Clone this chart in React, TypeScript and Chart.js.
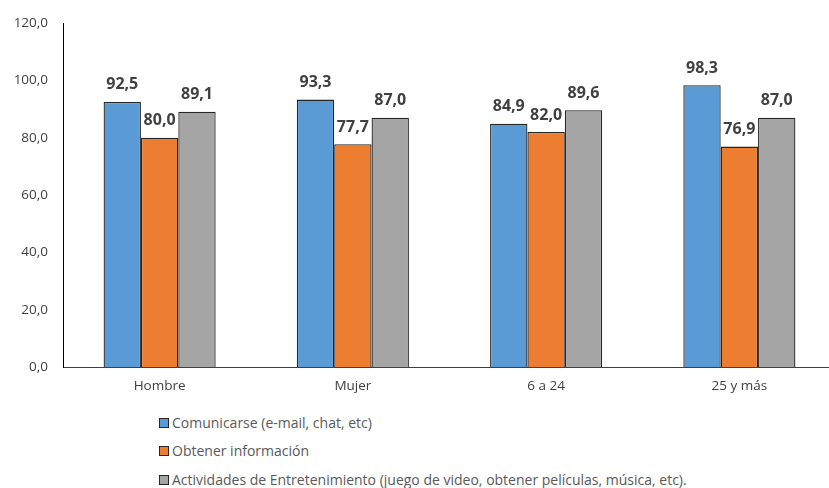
import React, { useEffect, useRef } from "react";
import { Chart, registerables } from "chart.js";

Chart.register(...registerables);

const categories = ["Hombre", "Mujer", "6 a 24", "25 y más"];
const seriesNames = [
  "Comunicarse (e-mail, chat, etc)",
  "Obtener información",
  "Actividades de Entretenimiento (juego de video, obtener películas, música, etc).",
];
const comunicarse = [92.5, 93.3, 84.9, 98.3];
const informacion = [80.0, 77.7, 82.0, 76.9];
const entretenimiento = [89.1, 87.0, 89.6, 87.0];
const yTicks = [0, 20, 40, 60, 80, 100, 120];
const colors = ["#5B9BD5", "#ED7D31", "#A5A5A5"];

const FONT = "'Open Sans', Lato, sans-serif";

const fmt = (v: number) => v.toFixed(1).replace(".", ",");

const labelPlugin = {
  id: "barLabels",
  afterDatasetsDraw(chart: any) {
    const ctx = chart.ctx;
    ctx.save();
    ctx.font = `bold 16px ${FONT}`;
    ctx.fillStyle = "#404040";
    ctx.textAlign = "center";
    ctx.textBaseline = "middle";
    chart.data.datasets.forEach((ds: any, i: number) => {
      const meta = chart.getDatasetMeta(i);
      meta.data.forEach((bar: any, j: number) => {
        ctx.fillText(fmt(ds.data[j]), bar.x, bar.y - 17);
      });
    });
    ctx.restore();
  },
};

export default function App() {
  const ref = useRef<HTMLCanvasElement>(null);
  useEffect(() => {
    if (!ref.current) return;
    const data = [comunicarse, informacion, entretenimiento];
    const chart = new Chart(ref.current, {
      type: "bar",
      data: {
        labels: categories,
        datasets: data.map((d, i) => ({
          label: seriesNames[i],
          data: d,
          backgroundColor: colors[i],
          borderColor: "#262626",
          borderWidth: 1.3,
          categoryPercentage: 0.58,
          barPercentage: 1,
        })),
      },
      options: {
        animation: false,
        responsive: false,
        maintainAspectRatio: false,
        layout: { padding: { top: 20, left: 0, right: 0, bottom: 0 } },
        plugins: { legend: { display: false }, tooltip: { enabled: false } },
        scales: {
          x: {
            grid: { display: false, drawTicks: false },
            border: { display: true, color: "#404040", width: 1 },
            ticks: { color: "#404040", font: { family: FONT, size: 13.5 }, padding: 11 },
            afterFit: (s: any) => {
              s.height = 33;
            },
          },
          y: {
            min: 0,
            max: 120,
            afterBuildTicks: (s: any) => {
              s.ticks = yTicks.map((v) => ({ value: v }));
            },
            grid: { display: false, drawTicks: false },
            border: { display: true, color: "#000000", width: 1 },
            ticks: {
              color: "#404040",
              font: { family: FONT, size: 13.5 },
              padding: 15,
              callback: (v: any) => fmt(Number(v)),
            },
            afterFit: (s: any) => {
              s.width = 63;
            },
          },
        },
      },
      plugins: [labelPlugin],
    });
    return () => chart.destroy();
  }, []);

  const legendTops = [414, 442, 471];
  return (
    <div
      style={{
        position: "absolute",
        left: 0,
        top: 0,
        width: 829,
        height: 488,
        overflow: "hidden",
        background: "#fff",
        fontFamily: FONT,
      }}
    >
      <canvas ref={ref} width={836} height={400} style={{ display: "block" }} />
      {seriesNames.map((name, i) => (
        <div
          key={name}
          style={{
            position: "absolute",
            left: 159,
            top: legendTops[i],
            display: "flex",
            alignItems: "center",
            fontSize: 14,
            color: "#595959",
            whiteSpace: "nowrap",
            lineHeight: "18px",
          }}
        >
          <span
            style={{
              display: "inline-block",
              width: 8,
              height: 8,
              background: colors[i],
              border: "1px solid #262626",
              marginRight: 3,
            }}
          />
          {name}
        </div>
      ))}
    </div>
  );
}
